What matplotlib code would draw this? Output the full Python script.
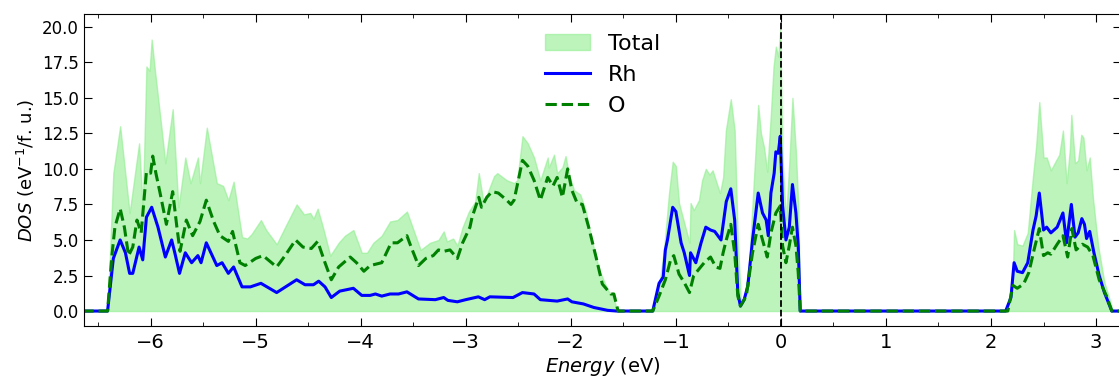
import matplotlib

matplotlib.use("Agg")
import matplotlib.pyplot as plt
import numpy as np

# ---------- data (energy in eV, DOS in eV^-1/f.u.) ----------
e_total = [-6.65, -6.41, -6.355, -6.29, -6.20, -6.11, -6.075, -6.04, -6.01, -5.99, -5.96,
           -5.894, -5.86, -5.79, -5.735, -5.67, -5.62, -5.55, -5.53, -5.465, -5.37, -5.31,
           -5.26, -5.21, -5.13, -5.08, -5.04, -4.95, -4.90, -4.80, -4.72, -4.61, -4.54,
           -4.48, -4.45, -4.41, -4.36, -4.29, -4.21, -4.15, -4.07, -3.99, -3.94, -3.88,
           -3.80, -3.72, -3.65, -3.56, -3.43, -3.34, -3.26, -3.21, -3.18, -3.12, -3.08,
           -3.03, -2.97, -2.91, -2.876, -2.83, -2.73, -2.70, -2.61, -2.54, -2.51, -2.46,
           -2.41, -2.35, -2.29, -2.22, -2.21, -2.16, -2.13, -2.08, -2.05, -2.02, -1.97,
           -1.91, -1.86, -1.80, -1.73, -1.65, -1.59, -1.56,
           -1.22, -1.175, -1.11, -1.065, -1.03, -1.00, -0.97, -0.92, -0.87, -0.86, -0.83,
           -0.78, -0.75, -0.715, -0.68, -0.65, -0.62, -0.58, -0.55, -0.524, -0.477, -0.44,
           -0.41, -0.38, -0.35, -0.30, -0.255, -0.216, -0.19, -0.16, -0.13, -0.095, -0.07,
           -0.048, -0.025, -0.006, 0.016, 0.048, 0.08, 0.11, 0.143, 0.165, 0.184,
           2.13, 2.18, 2.21, 2.22, 2.25, 2.30, 2.35, 2.40, 2.43, 2.46, 2.50, 2.53, 2.57,
           2.62, 2.65, 2.685, 2.72, 2.75, 2.765, 2.80, 2.83, 2.86, 2.88, 2.91, 2.94, 2.97,
           3.02, 3.08, 3.13, 3.16, 3.3]
dos_total = [0.0, 0.0, 9.7, 13.0, 6.9, 11.8, 7.3, 17.2, 16.9, 19.1, 17.0,
             12.7, 10.4, 14.2, 7.3, 10.8, 9.0, 10.8, 9.0, 12.9, 9.0, 8.8,
             7.8, 9.1, 5.2, 5.1, 5.4, 6.4, 5.7, 4.7, 5.9, 7.5, 6.8,
             6.9, 6.5, 7.2, 5.9, 3.9, 4.8, 5.3, 5.7, 4.1, 4.1, 4.8,
             5.3, 6.3, 6.4, 7.0, 4.3, 4.8, 5.0, 5.6, 4.9, 5.1, 4.6,
             5.9, 7.0, 7.7, 9.7, 7.6, 9.5, 9.7, 9.2, 9.0, 9.2, 12.3,
             11.8, 10.8, 9.2, 10.8, 10.1, 11.0, 9.7, 10.1, 10.9, 9.7, 8.5,
             8.2, 7.1, 5.0, 2.9, 1.5, 0.9, 0.0,
             0.0, 0.8, 4.5, 8.3, 10.5, 10.2, 7.6, 6.2, 4.8, 7.6, 7.1,
             7.8, 9.2, 10.0, 9.6, 9.9, 9.2, 8.3, 9.4, 12.7, 14.9, 12.7,
             5.0, 0.5, 0.8, 3.6, 9.5, 14.5, 12.5, 11.5, 9.8, 13.9, 17.2,
             18.6, 17.9, 19.8, 10.6, 6.4, 10.4, 15.0, 11.2, 7.5, 0.0,
             0.0, 0.8, 3.1, 5.7, 4.7, 4.6, 5.5, 9.5, 11.6, 14.7, 10.8, 10.8, 9.9,
             10.6, 11.0, 12.7, 9.0, 11.3, 13.8, 10.4, 10.6, 12.4, 12.2, 9.9, 10.8, 8.0,
             4.6, 2.0, 0.8, 0.0, 0.0]

e_rh = [-6.65, -6.41, -6.355, -6.29, -6.24, -6.20, -6.17, -6.11, -6.075, -6.04, -5.99,
        -5.93, -5.86, -5.80, -5.77, -5.725, -5.67, -5.61, -5.55, -5.52, -5.47, -5.37,
        -5.32, -5.26, -5.21, -5.13, -5.05, -4.95, -4.80, -4.61, -4.53, -4.45, -4.40,
        -4.34, -4.28, -4.20, -4.07, -3.99, -3.91, -3.86, -3.80, -3.72, -3.64, -3.56,
        -3.45, -3.29, -3.21, -3.17, -3.08, -3.00, -2.88, -2.82, -2.77, -2.55, -2.46,
        -2.35, -2.29, -2.13, -2.03, -1.99, -1.88, -1.78, -1.65, -1.56,
        -1.22, -1.16, -1.12, -1.10, -1.08, -1.03, -1.00, -0.95, -0.92, -0.87, -0.86,
        -0.81, -0.76, -0.715, -0.67, -0.63, -0.60, -0.57, -0.52, -0.477, -0.44, -0.41,
        -0.385, -0.35, -0.315, -0.27, -0.216, -0.175, -0.14, -0.12, -0.095, -0.064,
        -0.048, -0.025, -0.006, 0.016, 0.048, 0.08, 0.11, 0.143, 0.165, 0.184,
        2.14, 2.19, 2.22, 2.25, 2.30, 2.35, 2.40, 2.43, 2.46, 2.50, 2.53, 2.57, 2.63,
        2.685, 2.72, 2.765, 2.80, 2.83, 2.865, 2.89, 2.91, 2.94, 2.98, 3.03, 3.08,
        3.15, 3.3]
dos_rh = [0.0, 0.0, 3.7, 5.0, 4.1, 2.65, 2.65, 4.5, 3.6, 6.6, 7.3,
          5.9, 3.8, 5.0, 4.1, 2.65, 4.1, 3.4, 3.9, 3.4, 4.8, 3.2,
          3.4, 2.65, 3.1, 1.7, 1.7, 1.95, 1.3, 2.2, 1.85, 1.85, 2.1,
          1.7, 0.95, 1.4, 1.6, 1.1, 1.1, 1.2, 1.05, 1.2, 1.2, 1.35,
          0.85, 0.8, 0.95, 0.75, 0.65, 0.8, 1.0, 0.8, 1.0, 0.95, 1.3,
          1.2, 0.8, 0.7, 0.85, 0.65, 0.5, 0.25, 0.05, 0.0,
          0.0, 1.95, 2.4, 4.3, 5.0, 7.3, 7.0, 4.8, 4.1, 2.5, 4.1,
          3.4, 4.8, 5.9, 5.7, 5.6, 5.3, 5.0, 7.7, 8.6, 6.4, 1.25,
          0.35, 0.8, 1.75, 5.0, 8.3, 6.9, 6.4, 5.3, 8.3, 9.7,
          11.2, 11.1, 12.3, 7.4, 5.0, 5.9, 8.9, 6.9, 4.6, 0.0,
          0.0, 0.95, 3.4, 2.8, 2.7, 3.4, 5.7, 6.7, 8.3, 5.7, 5.9, 5.5, 5.9,
          6.9, 4.8, 7.5, 5.2, 5.5, 6.5, 6.1, 5.1, 5.6, 4.1, 2.5, 1.3,
          0.0, 0.0]

e_o = [-6.65, -6.41, -6.37, -6.34, -6.29, -6.25, -6.21, -6.17, -6.13, -6.09, -6.04,
       -6.00, -5.98, -5.95, -5.91, -5.85, -5.79, -5.75, -5.72, -5.66, -5.60, -5.53,
       -5.47, -5.40, -5.34, -5.26, -5.22, -5.15, -5.10, -5.00, -4.93, -4.80, -4.72,
       -4.62, -4.55, -4.47, -4.41, -4.34, -4.28, -4.21, -4.10, -4.04, -3.97, -3.91,
       -3.80, -3.71, -3.65, -3.56, -3.52, -3.45, -3.38, -3.31, -3.26, -3.21, -3.15,
       -3.08, -3.03, -2.96, -2.94, -2.876, -2.85, -2.80, -2.75, -2.69, -2.61, -2.57,
       -2.54, -2.46, -2.41, -2.35, -2.29, -2.22, -2.17, -2.13, -2.08, -2.03, -1.99,
       -1.94, -1.89, -1.83, -1.76, -1.70, -1.62, -1.59, -1.55,
       -1.22, -1.16, -1.10, -1.05, -1.02, -0.97, -0.92, -0.87, -0.83, -0.73, -0.67,
       -0.62, -0.58, -0.55, -0.52, -0.477, -0.44, -0.41, -0.385, -0.33, -0.27, -0.216,
       -0.175, -0.13, -0.095, -0.048, -0.006, 0.016, 0.048, 0.08, 0.11, 0.143, 0.165,
       0.184,
       2.16, 2.21, 2.25, 2.31, 2.36, 2.41, 2.46, 2.50, 2.54, 2.57, 2.63, 2.685, 2.73,
       2.77, 2.81, 2.87, 2.92, 2.97, 3.03, 3.10, 3.15, 3.3]
dos_o = [0.0, 0.0, 3.8, 5.9, 7.2, 5.9, 3.9, 4.5, 6.4, 5.5, 9.8,
         9.7, 10.9, 9.7, 8.3, 6.1, 8.4, 5.9, 4.2, 6.4, 5.3, 6.3,
         7.8, 6.3, 5.3, 4.9, 5.6, 3.4, 3.2, 3.7, 3.9, 3.1, 3.9,
         5.0, 4.5, 4.4, 4.9, 3.4, 2.2, 3.1, 3.8, 3.4, 2.8, 3.2,
         3.4, 4.8, 4.8, 5.3, 4.5, 3.2, 3.7, 3.9, 4.3, 4.2, 4.3,
         3.7, 4.8, 5.9, 6.6, 8.0, 7.3, 8.0, 8.4, 8.3, 7.8, 7.5,
         7.8, 10.6, 10.2, 9.2, 7.8, 9.4, 8.8, 9.4, 8.0, 10.0, 8.5,
         7.6, 7.5, 5.9, 3.8, 1.9, 1.2, 1.2, 0.0,
         0.0, 1.05, 2.2, 3.6, 3.9, 2.6, 2.0, 1.3, 2.5, 3.4, 3.8,
         3.1, 3.0, 4.1, 5.0, 6.1, 4.1, 1.05, 0.35, 1.05, 4.1, 6.1,
         5.0, 3.8, 5.5, 6.9, 7.4, 4.6, 3.4, 4.6, 5.9, 4.6, 2.7,
         0.0,
         0.0, 1.8, 1.6, 1.9, 2.7, 4.3, 5.8, 3.9, 4.1, 4.0, 4.7, 5.3, 3.8,
         5.8, 4.3, 4.7, 4.5, 3.9, 2.2, 1.05, 0.0, 0.0]

e_fermi = 0.0

fig = plt.figure(figsize=(11.19, 3.77), dpi=100, facecolor="white")
ax = fig.add_axes([0.075, 0.135, 0.927, 0.828])

ax.fill_between(e_total, dos_total, 0, color="lightgreen", alpha=0.6, label="Total")
ax.plot(e_rh, dos_rh, color="blue", lw=2.2, label="Rh")
ax.plot(e_o, dos_o, color="green", lw=2.2, ls="--", label="O")
ax.axvline(e_fermi, color="black", ls="--", lw=1.3)

ax.set_xlim(-6.635, 3.24)
ax.set_ylim(-1.06, 20.9)
ax.set_yticks(np.arange(0, 20.1, 2.5))
ax.set_yticklabels([f"{v:.1f}" for v in np.arange(0, 20.1, 2.5)])
ax.set_xticks(np.arange(-6, 4, 1))
ax.set_xticks(np.arange(-6.5, 3.3, 0.5), minor=True)
ax.tick_params(axis="both", which="both", direction="in", top=True, right=True)
ax.tick_params(axis="x", which="major", labelsize=14, length=6, pad=5)
ax.tick_params(axis="x", which="minor", length=3)
ax.tick_params(axis="y", which="major", labelsize=12, length=6)

ax.set_xlabel(r"$Energy$ (eV)", fontsize=14, labelpad=2)
ax.set_ylabel(r"$DOS$ (eV$^{-1}$/f. u.)", fontsize=13)
ax.legend(loc="upper center", frameon=False, fontsize=16, handlelength=2.0,
          bbox_to_anchor=(0.5, 1.0))

fig.savefig("out.png", dpi=100)
